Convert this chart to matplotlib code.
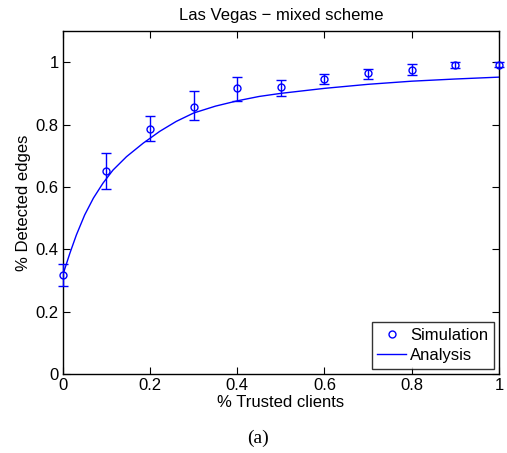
import matplotlib
matplotlib.use("Agg")
import matplotlib.pyplot as plt

# simulated detection ratio with error bar bounds
sim_x = [0, 0.1, 0.2, 0.3, 0.4, 0.5, 0.6, 0.7, 0.8, 0.9, 1.0]
sim_y = [0.318, 0.652, 0.787, 0.857, 0.916, 0.920, 0.945, 0.965, 0.975, 0.990, 0.992]
sim_hi = [0.352, 0.710, 0.828, 0.907, 0.954, 0.944, 0.961, 0.979, 0.994, 0.999, 1.000]
sim_lo = [0.282, 0.593, 0.748, 0.816, 0.874, 0.892, 0.930, 0.947, 0.960, 0.980, 0.984]

# analytical curve
ana_x = [0, 0.016, 0.031, 0.05, 0.07, 0.092, 0.115, 0.146, 0.184, 0.222, 0.26,
         0.3, 0.35, 0.4, 0.45, 0.5, 0.6, 0.7, 0.8, 0.9, 1.0]
ana_y = [0.318, 0.387, 0.446, 0.510, 0.564, 0.612, 0.654, 0.697, 0.740, 0.778, 0.810,
         0.837, 0.859, 0.876, 0.890, 0.900, 0.916, 0.929, 0.939, 0.946, 0.952]

xticks = [0, 0.2, 0.4, 0.6, 0.8, 1]
xticklabels = ["0", "0.2", "0.4", "0.6", "0.8", "1"]
yticks = [0, 0.2, 0.4, 0.6, 0.8, 1]
yticklabels = ["0", "0.2", "0.4", "0.6", "0.8", "1"]

plt.rcParams["font.family"] = ["Liberation Sans", "DejaVu Sans"]
fs = 12

fig = plt.figure(figsize=(5.07, 4.53), dpi=100)
ax = fig.add_axes([0.124, 0.1744, 0.86, 0.7572])

yerr = [[y - lo for y, lo in zip(sim_y, sim_lo)], [hi - y for y, hi in zip(sim_y, sim_hi)]]
ax.errorbar(sim_x, sim_y, yerr=yerr, fmt="none", ecolor="#0000ff", elinewidth=1,
            capsize=3.5, capthick=1, clip_on=False, zorder=3)
ax.plot(sim_x, sim_y, "o", color="#0000ff", mfc="none", ms=5, mew=1,
        clip_on=False, zorder=4, label="Simulation")
ax.plot(ana_x, ana_y, "-", color="#0000ff", lw=1, label="Analysis", zorder=2)

ax.set_xlim(0, 1)
ax.set_ylim(0, 1.1)
ax.set_xticks(xticks)
ax.set_xticklabels(xticklabels)
ax.set_yticks(yticks)
ax.set_yticklabels(yticklabels)
ax.tick_params(direction="in", top=True, right=True, length=5, labelsize=fs, pad=3)
for s in ax.spines.values():
    s.set_linewidth(1)

ax.set_title("Las Vegas \u2212 mixed scheme", fontsize=fs, pad=8)
ax.set_xlabel("% Trusted clients", fontsize=fs, labelpad=1)
ax.set_ylabel("% Detected edges", fontsize=fs, labelpad=3)

leg = ax.legend(loc="lower right", fontsize=fs, frameon=True, fancybox=False,
                borderaxespad=0.3, handlelength=1.7, handletextpad=0.25,
                borderpad=0.35, labelspacing=0.3)
leg.get_frame().set_edgecolor("black")
leg.get_frame().set_linewidth(1)

fig.text(0.508, 0.033, "(a)", ha="center", va="center", fontsize=14,
         family=["Liberation Serif", "DejaVu Serif"])

fig.savefig("out.png", dpi=100)
